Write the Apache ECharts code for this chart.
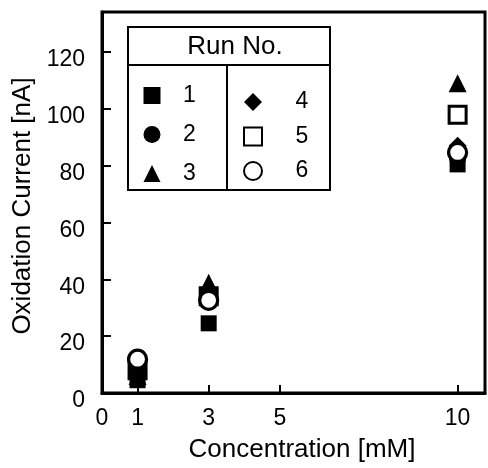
<!DOCTYPE html>
<html>
<head>
<meta charset="utf-8">
<script src="https://cdn.jsdelivr.net/npm/echarts@6/dist/echarts.min.js"></script>
<style>html,body{margin:0;padding:0;background:#fff}#c{width:488px;height:468px}</style>
</head>
<body>
<div id="c"></div>
<script>
const concentrations = [1, 3, 10];
const run1 = [4.5, 24.5, 80.4];
const run2 = [9.5, 32, 82.5];
const run3 = [6, 38.8, 108.9];
const run4 = [8, 35, 87];
const run5 = [8, 34, 97.9];
const run6 = [11.9, 32.6, 84.6];
const runNames = ['1', '2', '3', '4', '5', '6'];
const xLabelValues = [0, 1, 3, 5, 10];
const xTickValues = [1, 3, 5, 10];
const yTickValues = [0, 20, 40, 60, 80, 100, 120];

const FONT = 'Liberation Sans';
function pts(vals) { return concentrations.map((c, i) => [c, vals[i]]); }

const seriesDefs = [
  { name: runNames[0], data: run1, symbol: 'rect', size: 16, fill: '#000', bw: 0, z: 2 },
  { name: runNames[1], data: run2, symbol: 'circle', size: 17, fill: '#000', bw: 0, z: 2 },
  { name: runNames[2], data: run3, symbol: 'triangle', size: 18, fill: '#000', bw: 0, z: 2 },
  { name: runNames[3], data: run4, symbol: 'diamond', size: 18, fill: '#000', bw: 0, z: 2 },
  { name: runNames[4], data: run5, symbol: 'rect', size: 17, fill: '#fff', bw: 3, z: 1 },
  { name: runNames[5], data: run6, symbol: 'circle', size: 18, fill: '#fff', bw: 3.2, z: 3 }
];

const chart = echarts.init(document.getElementById('c'), null, { renderer: 'canvas' });
const legendCommon = { orient: 'vertical', padding: 0, selectedMode: false };
chart.setOption({
  animation: false,
  backgroundColor: '#fff',
  grid: { left: 102, right: 3, top: 12, bottom: 73, show: true, borderColor: '#000', borderWidth: 3 },
  xAxis: {
    type: 'value', min: 0, max: 10.77,
    name: 'Concentration [mM]', nameLocation: 'middle', nameGap: 44,
    nameTextStyle: { fontFamily: FONT, fontSize: 26, color: '#000', padding: [0, 0, 0, 17] },
    axisLine: { show: true, onZero: false, lineStyle: { color: '#000', width: 3 } },
    axisTick: { show: true, inside: true, length: 8, customValues: xTickValues, lineStyle: { color: '#000', width: 2 } },
    axisLabel: { customValues: xLabelValues, margin: 14, fontFamily: FONT, fontSize: 23, color: '#000' },
    splitLine: { show: false }
  },
  yAxis: {
    type: 'value', min: 0, max: 134,
    name: 'Oxidation Current [nA]', nameLocation: 'middle', nameGap: 60, nameRotate: 90,
    nameTextStyle: { fontFamily: FONT, fontSize: 26, color: '#000', padding: [0, 7, 0, 0] },
    axisLine: { show: true, onZero: false, lineStyle: { color: '#000', width: 3 } },
    axisTick: { show: true, inside: true, length: 9, customValues: yTickValues.slice(1), lineStyle: { color: '#000', width: 2 } },
    axisLabel: {
      customValues: yTickValues, margin: 17, color: '#000',
      formatter: v => '{a|' + v + '}',
      rich: { a: { fontFamily: FONT, fontSize: 23, color: '#000', padding: [16, 0, 0, 0] } }
    },
    splitLine: { show: false }
  },
  legend: [
    Object.assign({}, legendCommon, {
      left: 143.5, top: 84, itemWidth: 17, itemHeight: 17, itemGap: 16, data: runNames.slice(0, 3),
      textStyle: { fontFamily: FONT, fontSize: 23, color: '#000', padding: [0, 0, 0, 17.5] }
    }),
    Object.assign({}, legendCommon, {
      left: 243, top: 90.5, itemWidth: 18, itemHeight: 18, itemGap: 11.5, data: runNames.slice(3, 6),
      textStyle: { fontFamily: FONT, fontSize: 23, color: '#000', padding: [0, 0, 0, 28.5] }
    })
  ],
  graphic: [
    { type: 'rect', shape: { x: 128, y: 27, width: 202, height: 163 }, style: { fill: 'none', stroke: '#000', lineWidth: 2 }, z: 10 },
    { type: 'line', shape: { x1: 128, y1: 65, x2: 330, y2: 65 }, style: { stroke: '#000', lineWidth: 2 }, z: 10 },
    { type: 'line', shape: { x1: 227, y1: 65, x2: 227, y2: 190 }, style: { stroke: '#000', lineWidth: 2 }, z: 10 },
    { type: 'text', x: 235, y: 46.5, style: { text: 'Run No.', fontFamily: FONT, fontSize: 26, fill: '#000', align: 'center', verticalAlign: 'middle' }, z: 10 }
  ],
  series: seriesDefs.map(s => ({
    type: 'scatter', name: s.name, data: pts(s.data), symbol: s.symbol, symbolSize: s.size, z: s.z,
    itemStyle: { color: s.fill, borderColor: '#000', borderWidth: s.bw, opacity: 1 },
    emphasis: { disabled: true }
  }))
});
</script>
</body>
</html>
